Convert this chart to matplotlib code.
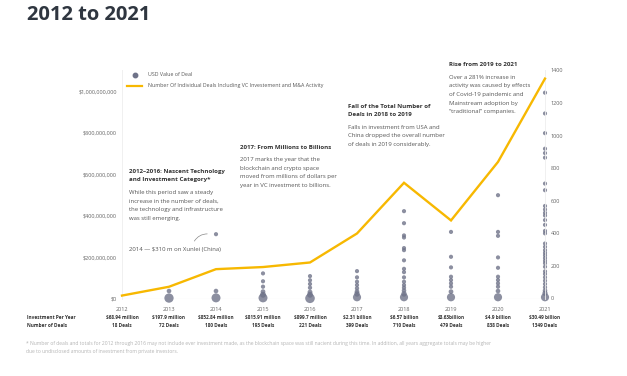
import numpy as np
import matplotlib
matplotlib.use("Agg")
import matplotlib.pyplot as plt
from matplotlib.lines import Line2D
from matplotlib.patches import FancyArrowPatch

plt.rcParams['font.family'] = ['Open Sans', 'DejaVu Sans']

# ---------------- data ----------------
years = [2012, 2013, 2014, 2015, 2016, 2017, 2018, 2019, 2020, 2021]
deal_counts = [18, 72, 180, 193, 221, 399, 710, 479, 838, 1349]
investment_labels = ["$68.94 million", "$197.9 million", "$852.84 million", "$815.91 million",
                     "$899.7 million", "$2.31 billion", "$6.57 billion", "$3.63billion",
                     "$4.9 billion", "$30.49 billion"]
deal_labels = ["18 Deals", "72 Deals", "180 Deals", "193 Deals", "221 Deals", "399 Deals",
               "710 Deals", "479 Deals", "838 Deals", "1349 Deals"]

# individual deal values, millions USD
deals_2012 = []
deals_2013 = [36, 2]
deals_2014 = [310, 36, 3]
deals_2015 = [121, 83, 57, 33, 18, 3]
deals_2016 = [108, 88, 70, 52, 31, 18, 1]
deals_2017 = [132, 102, 81, 65, 49, 33, 22, 6]
deals_2018 = [421, 363, 304, 294, 243, 233, 184, 143, 127, 102, 81, 65, 52, 38, 22, 6]
deals_2019 = [321, 201, 150, 105, 89, 73, 57, 33, 6]
deals_2020 = [498, 321, 302, 198, 148, 105, 89, 73, 57, 36, 6]
deals_2021 = [992, 892, 797, 722, 701, 679, 554, 522, 446, 429, 413, 400, 378, 355, 326,
              314, 265, 249, 233, 220, 208, 195, 182, 170, 153, 131, 118, 102, 86, 70,
              54, 38, 25, 6]
deal_values = [deals_2012, deals_2013, deals_2014, deals_2015, deals_2016,
               deals_2017, deals_2018, deals_2019, deals_2020, deals_2021]

left_ticks = [0, 200e6, 400e6, 600e6, 800e6, 1000e6]
left_tick_labels = ["$0", "$200,000,000", "$400,000,000", "$600,000,000",
                    "$800,000,000", "$1,000,000,000"]
right_ticks = [0, 200, 400, 600, 800, 1000, 1200, 1400]

# ---------------- figure ----------------
W, H = 627, 376
fig = plt.figure(figsize=(W / 100, H / 100), dpi=100)
fig.patch.set_facecolor("white")

def fx(px):
    return px / W

def fy(py):
    return 1 - py / H

ax_l, ax_r, ax_b, ax_t = 122, 545, 298.5, 70.3
ax = fig.add_axes([fx(ax_l), fy(ax_b), fx(ax_r) - fx(ax_l), fy(ax_t) - fy(ax_b)])
ax2 = ax.twinx()

DOT = "#6f7389"
LINE = "#F7B801"
GRID = "#e6e6e6"
TICK = "#666666"

# scatter dots
xs, ys, ss = [], [], []
for yr, vals in zip(years, deal_values):
    for v in vals:
        xs.append(yr)
        ys.append(v * 1e6)
        ss.append(9 + 42 * np.exp(-v / 12.0))
ax.scatter(xs, ys, s=ss, color=DOT, alpha=0.8, linewidths=0, zorder=3, clip_on=False)

ax.set_xlim(2012, 2021)
ax.set_ylim(0, 1.1e9)
ax.set_yticks(left_ticks)
ax.set_yticklabels(left_tick_labels)
ax.set_xticks(years)
ax.set_xticklabels([str(y) for y in years])
ax.tick_params(axis="y", length=0, labelsize=4, labelcolor=TICK, pad=3.8)
ax.tick_params(axis="x", length=0, labelsize=4, labelcolor=TICK, pad=6)

ax2.plot(years, deal_counts, color=LINE, lw=1.7, zorder=4, solid_joinstyle="miter",
         clip_on=False)
ax2.set_ylim(0, 1400)
ax2.set_yticks(right_ticks)
ax2.tick_params(axis="y", length=0, labelsize=4, labelcolor=TICK, pad=4)

for a in (ax, ax2):
    for side in ("top", "bottom"):
        a.spines[side].set_visible(False)
    a.spines["left"].set_color("#f0f0f0")
    a.spines["right"].set_color("#f0f0f0")
    a.spines["left"].set_linewidth(0.6)
    a.spines["right"].set_linewidth(0.6)
ax.axhline(0, color=GRID, lw=0.8, zorder=1)
ax.patch.set_visible(False)
ax2.set_zorder(ax.get_zorder() + 1)
ax2.patch.set_visible(False)

# ---------------- title ----------------
fig.text(fx(27), fy(15), "2012 to 2021", fontsize=14.5, fontweight="bold",
         color="#2f3640", ha="left", va="center")

# ---------------- legend (manual) ----------------
fig.add_artist(Line2D([fx(134.5)], [fy(75)], marker="o", markersize=3.2, color=DOT,
                      linestyle="none", transform=fig.transFigure))
fig.add_artist(Line2D([fx(127), fx(142)], [fy(86), fy(86)], color=LINE, lw=1.6,
                      transform=fig.transFigure))
fig.text(fx(148), fy(75), "USD Value of Deal", fontsize=3.8, color="#555555",
         ha="left", va="center")
fig.text(fx(148), fy(86),
         "Number Of Individual Deals Including VC Investement and M&A Activity",
         fontsize=3.8, color="#555555", ha="left", va="center")

# ---------------- annotations ----------------
def block(x, y0, head, body, pitch=8.6, head_pitch=8.6, gap=3.8):
    y = y0
    for line in head:
        fig.text(fx(x), fy(y), line, fontsize=4.4, fontweight="bold", color="#333333",
                 ha="left", va="center")
        y += head_pitch
    y += gap
    for line in body:
        fig.text(fx(x), fy(y), line, fontsize=4.3, color="#555555", ha="left", va="center")
        y += pitch

block(129, 171.3, ["2012–2016: Nascent Technology", "and Investment Category*"],
      ["While this period saw a steady", "increase in the number of deals,",
       "the technology and infrastructure", "was still emerging."])
block(240, 147.3, ["2017: From Millions to Billions"],
      ["2017 marks the year that the", "blockchain and crypto space",
       "moved from millions of dollars per", "year in VC investment to billions."])
block(347.5, 106.3, ["Fall of the Total Number of", "Deals in 2018 to 2019"],
      ["Falls in investment from USA and", "China dropped the overall number",
       "of deals in 2019 considerably."])
block(449, 65, ["Rise from 2019 to 2021"],
      ["Over a 281% increase in", "activity was caused by effects",
       "of Covid-19 paindemic and", "Mainstream adoption by",
       "\u201ctraditional\u201d companies."])

fig.text(fx(129), fy(250), "2014 — $310 m on Xunlei (China)", fontsize=4.3,
         color="#555555", ha="left", va="center")
arc = FancyArrowPatch((fx(193), fy(243.5)), (fx(210), fy(234)),
                      connectionstyle="arc3,rad=-0.35", arrowstyle="-",
                      color="#888888", lw=0.5, transform=fig.transFigure)
fig.add_artist(arc)

# ---------------- table ----------------
fig.text(fx(27), fy(317.5), "Investment Per Year", fontsize=3.4, fontweight="bold",
         color="#333333", ha="left", va="center")
fig.text(fx(27), fy(325.5), "Number of Deals", fontsize=3.4, fontweight="bold",
         color="#333333", ha="left", va="center")
for yr, inv, dl in zip(years, investment_labels, deal_labels):
    xp = ax_l + (yr - 2012) / 9 * (ax_r - ax_l)
    fig.text(fx(xp), fy(317.5), inv, fontsize=3.4, fontweight="bold", color="#333333",
             ha="center", va="center")
    fig.text(fx(xp), fy(325.5), dl, fontsize=3.4, fontweight="bold", color="#333333",
             ha="center", va="center")

# ---------------- footnote ----------------
fig.text(fx(26.5), fy(343.3),
         "* Number of deals and totals for 2012 through 2016 may not include ever investment made, "
         "as the blockchain space was still nacient during this time. In addition, all years "
         "aggregate totals may be higher", fontsize=3.65, color="#b5b5b5", ha="left", va="center")
fig.text(fx(26.5), fy(351.7),
         "due to undisclosed amounts of investment from private investors.",
         fontsize=3.65, color="#b5b5b5", ha="left", va="center")

fig.savefig("out.png", dpi=100, facecolor="white")
